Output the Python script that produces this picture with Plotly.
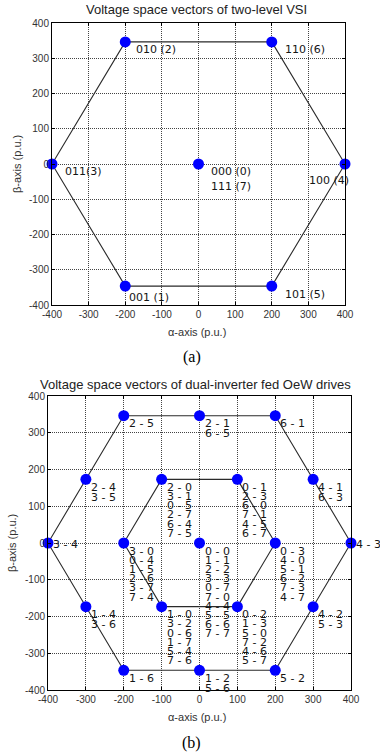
import plotly.graph_objects as go

# ---------------- data ----------------
tick_vals = [-400, -300, -200, -100, 0, 100, 200, 300, 400]
tick_text = ["-400", "-300", "-200", "-100", "0", "100", "200", "300", "400"]

# (a) two-level VSI: active + zero vectors
vsi_alpha = [400, 200, -200, -400, -200, 200, 0]
vsi_beta = [0, 346.4, 346.4, 0, -346.4, -346.4, 0]
vsi_labels = [["100 (4)"], ["110 (6)"], ["010 (2)"], ["011(3)"],
              ["001 (1)"], ["101 (5)"], ["000 (0)", "111 (7)"]]
vsi_hex_alpha = [400, 200, -200, -400, -200, 200, 400]
vsi_hex_beta = [0, 346.4, 346.4, 0, -346.4, -346.4, 0]

# (b) dual-inverter fed open-end winding drive
oew_alpha = [-200, 0, 200, -300, -100, 100, 300, -400, -200, 0, 200, 400,
             -300, -100, 100, 300, -200, 0, 200]
oew_beta = [346.4, 346.4, 346.4, 173.2, 173.2, 173.2, 173.2, 0, 0, 0, 0, 0,
            -173.2, -173.2, -173.2, -173.2, -346.4, -346.4, -346.4]
oew_labels = [
    ["2 - 5"],
    ["2 - 1", "6 - 5"],
    ["6 - 1"],
    ["2 - 4", "3 - 5"],
    ["2 - 0", "3 - 1", "0 - 5", "2 - 7", "6 - 4", "7 - 5"],
    ["0 - 1", "2 - 3", "6 - 0", "7 - 1", "4 - 5", "6 - 7"],
    ["4 - 1", "6 - 3"],
    ["3 - 4"],
    ["3 - 0", "0 - 4", "1 - 5", "2 - 6", "3 - 7", "7 - 4"],
    ["0 - 0", "1 - 1", "2 - 2", "3 - 3", "0 - 7", "7 - 0", "4 - 4", "5 - 5", "6 - 6", "7 - 7"],
    ["0 - 3", "4 - 0", "5 - 1", "6 - 2", "7 - 3", "4 - 7"],
    ["4 - 3"],
    ["1 - 4", "3 - 6"],
    ["1 - 0", "3 - 2", "0 - 6", "1 - 7", "5 - 4", "7 - 6"],
    ["0 - 2", "1 - 3", "5 - 0", "7 - 2", "4 - 6", "5 - 7"],
    ["4 - 2", "5 - 3"],
    ["1 - 6"],
    ["1 - 2", "5 - 6"],
    ["5 - 2"],
]
oew_outer_alpha = [400, 200, -200, -400, -200, 200, 400]
oew_outer_beta = [0, 346.4, 346.4, 0, -346.4, -346.4, 0]
oew_inner_alpha = [200, 100, -100, -200, -100, 100, 200]
oew_inner_beta = [0, 173.2, 173.2, 0, -173.2, -173.2, 0]

# ---------------- figure ----------------
W, H = 380, 755
LINE = "#2a2a2a"
BLUE = "#0000ff"
LABEL_FONT = dict(family="DejaVu Sans", size=11, color="#151515")
TICK_FONT = dict(family="Liberation Sans, Arial", size=10, color="#333333")


def px_x(p):
    return p / W


def px_y(p):
    return 1 - p / H


fig = go.Figure()

fig.add_trace(go.Scatter(x=vsi_hex_alpha, y=vsi_hex_beta, mode="lines",
                         line=dict(color=LINE, width=1.1), xaxis="x", yaxis="y",
                         hoverinfo="skip", cliponaxis=False))
fig.add_trace(go.Scatter(x=vsi_alpha, y=vsi_beta, mode="markers",
                         marker=dict(color=BLUE, size=11), xaxis="x", yaxis="y",
                         cliponaxis=False))

fig.add_trace(go.Scatter(x=oew_outer_alpha, y=oew_outer_beta, mode="lines",
                         line=dict(color=LINE, width=1.1), xaxis="x2", yaxis="y2",
                         hoverinfo="skip", cliponaxis=False))
fig.add_trace(go.Scatter(x=oew_inner_alpha, y=oew_inner_beta, mode="lines",
                         line=dict(color=LINE, width=1.1), xaxis="x2", yaxis="y2",
                         hoverinfo="skip", cliponaxis=False))
fig.add_trace(go.Scatter(x=oew_alpha, y=oew_beta, mode="markers",
                         marker=dict(color=BLUE, size=11), xaxis="x2", yaxis="y2",
                         cliponaxis=False))

axis_common = dict(
    range=[-400, 400], tickmode="array", tickvals=tick_vals, ticktext=tick_text,
    showgrid=True, gridcolor="#444444", griddash="1px,1px", gridwidth=1,
    zeroline=False, showline=True, linecolor="black", linewidth=1, mirror="ticks",
    ticks="inside", ticklen=3, tickcolor="black", tickfont=TICK_FONT,
    fixedrange=True, automargin=False,
)

fig.update_layout(
    width=W, height=H, margin=dict(l=0, r=0, t=0, b=0),
    paper_bgcolor="white", plot_bgcolor="white", showlegend=False,
    xaxis=dict(axis_common, domain=[px_x(52), px_x(345)], anchor="y"),
    yaxis=dict(axis_common, domain=[px_y(305), px_y(23)], anchor="x"),
    xaxis2=dict(axis_common, domain=[px_x(48), px_x(351)], anchor="y2"),
    yaxis2=dict(axis_common, domain=[px_y(690), px_y(396)], anchor="x2"),
)

annotations = []

# point labels for (a): pixel offsets from each vector tip
vsi_offsets = [(-38, -17), (11, -8), (9, -8), (11, -8), (2, -11), (11, -8), (10, -8)]
for a, b, lines, (dx, dy) in zip(vsi_alpha, vsi_beta, vsi_labels, vsi_offsets):
    for i, t in enumerate(lines):
        annotations.append(dict(x=a, y=b, xref="x", yref="y", text=t, showarrow=False,
                                xanchor="left", yanchor="middle", xshift=dx,
                                yshift=dy - 15 * i, font=LABEL_FONT))

# point labels for (b): stacked lines below-right of each vector tip
for a, b, lines in zip(oew_alpha, oew_beta, oew_labels):
    dy0 = -1 if abs(a) == 400 else -8
    step = 10 if len(lines) <= 2 else 9.2
    for i, t in enumerate(lines):
        annotations.append(dict(x=a, y=b, xref="x2", yref="y2", text=t, showarrow=False,
                                xanchor="left", yanchor="middle", xshift=3,
                                yshift=dy0 - step * i, font=LABEL_FONT))

TITLE_FONT = dict(family="Liberation Sans, Arial", size=13, color="#222222")
AXT_FONT = dict(family="Liberation Sans, Arial", size=11, color="#333333")
CAP_FONT = dict(family="Liberation Serif, Times New Roman", size=16, color="black")


def paper_text(x, y, text, font, angle=0):
    annotations.append(dict(x=px_x(x), y=px_y(y), xref="paper", yref="paper", text=text,
                            showarrow=False, xanchor="center", yanchor="middle",
                            font=font, textangle=angle))


paper_text(196, 10, "Voltage space vectors of two-level VSI", TITLE_FONT)
paper_text(197, 332, "α-axis (p.u.)", AXT_FONT)
paper_text(17, 164, "β-axis (p.u.)", AXT_FONT, angle=-90)
paper_text(192, 357, "(a)", CAP_FONT)

paper_text(195, 384, "Voltage space vectors of dual-inverter fed OeW drives", TITLE_FONT)
paper_text(197, 717, "α-axis (p.u.)", AXT_FONT)
paper_text(12, 543, "β-axis (p.u.)", AXT_FONT, angle=-90)
paper_text(191, 743, "(b)", CAP_FONT)

fig.update_layout(annotations=annotations)

fig.write_html("out.html")
